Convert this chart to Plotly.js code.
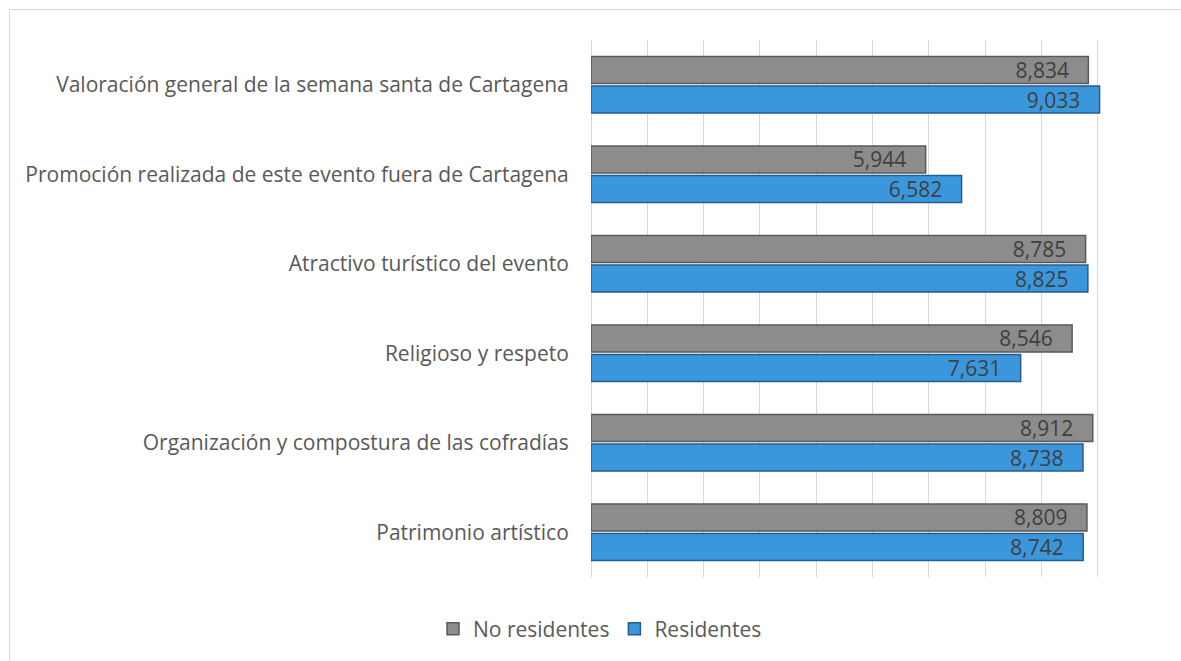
<!DOCTYPE html>
<html><head><meta charset="utf-8">
<script src="https://cdn.plot.ly/plotly-3.0.1.min.js"></script>
<style>html,body{margin:0;padding:0;background:#fff}#chart{width:1181px;height:661px}</style>
</head><body><div id="chart"></div>
<script>
const categories = [
  "Valoración general de la semana santa de Cartagena",
  "Promoción realizada de este evento fuera de Cartagena",
  "Atractivo turístico del evento",
  "Religioso y respeto",
  "Organización y compostura de las cofradías",
  "Patrimonio artístico"
];
const noResidentes = [8.834, 5.944, 8.785, 8.546, 8.912, 8.809];
const residentes   = [9.033, 6.582, 8.825, 7.631, 8.738, 8.742];
const seriesNames = ["No residentes", "Residentes"];

const L = 591, R = 27, T = 40, B = 84, W = 1181, H = 661;
const pw = W - L - R, ph = H - T - B;
const px = x => (x - L) / pw;
const py = y => 1 - (y - T) / ph;
const FONT = '"Open Sans", sans-serif';

const common = {
  type: 'bar', orientation: 'h', y: categories,
  textposition: 'inside', insidetextanchor: 'end',
  texttemplate: '%{x:.3f}   ',
  textfont: {family: FONT, size: 21, color: '#404040'},
  insidetextfont: {family: FONT, size: 21, color: '#404040'},
  constraintext: 'none',
  hoverinfo: 'x+y', cliponaxis: false
};
const data = [
  Object.assign({}, common, {name: seriesNames[0], x: noResidentes,
    marker: {color: '#8c8c8c', line: {color: '#5a5a5a', width: 1.5}}}),
  Object.assign({}, common, {name: seriesNames[1], x: residentes,
    marker: {color: '#3b97dc', line: {color: '#245d8c', width: 1.5}}})
];
const layout = {
  width: W, height: H,
  margin: {l: L, r: R, t: T, b: B, pad: 0},
  paper_bgcolor: '#ffffff', plot_bgcolor: '#ffffff',
  separators: ',.',
  barmode: 'group', bargap: 0.34, bargroupgap: 0.08,
  font: {family: FONT, color: '#595959', size: 21},
  xaxis: {range: [0, 10], dtick: 1, showticklabels: false, showgrid: true,
    gridcolor: '#d9d9d9', gridwidth: 1, zeroline: true, zerolinecolor: '#d9d9d9',
    zerolinewidth: 1, showline: false, ticks: '', fixedrange: true},
  yaxis: {autorange: 'reversed', type: 'category', showgrid: false, zeroline: false,
    showline: false, ticks: 'outside', ticklen: 17, tickcolor: 'rgba(0,0,0,0)',
    tickfont: {family: FONT, size: 21, color: '#595959'}},
  showlegend: true,
  legend: {orientation: 'h', x: px(600), xanchor: 'center', y: py(629), yanchor: 'middle',
    font: {family: FONT, size: 21, color: '#595959'},
    itemwidth: 30, tracegroupgap: 0},
  shapes: [{type: 'path', xref: 'paper', yref: 'paper',
    path: `M ${px(9.5)} ${py(661)} L ${px(9.5)} ${py(9.5)} L ${px(1181)} ${py(9.5)}`,
    line: {color: '#d9d9d9', width: 1}}]
};
Plotly.newPlot('chart', data, layout, {displayModeBar: false, staticPlot: true});
</script></body></html>
